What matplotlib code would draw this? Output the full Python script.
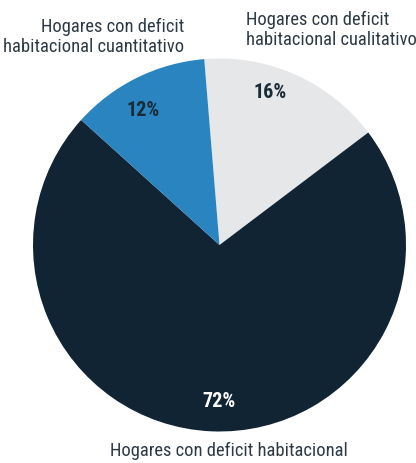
import matplotlib.pyplot as plt

categories = ["Hogares con deficit\nhabitacional cualitativo",
              "Hogares con deficit habitacional",
              "Hogares con deficit\nhabitacional cuantitativo"]
values = [16, 72, 12]
colors = ["#e6e7e9", "#102433", "#2a84c0"]
pct_colors = ["#1a2b38", "#ffffff", "#1a2b38"]

plt.rcParams['font.family'] = ["Roboto Condensed", "DejaVu Sans"]

fig = plt.figure(figsize=(4.16, 4.64), dpi=100)
ax = fig.add_axes([0, 0, 1, 1])

ax.pie(values, colors=colors, startangle=94.7, counterclock=False,
       center=(219.5, 218), radius=186.5, frame=True)
ax.set_xlim(0, 416)
ax.set_ylim(0, 464)
ax.set_aspect("equal")
ax.axis("off")

# percent labels
pct_pos = [(270, 371), (219, 62), (143, 354)]
for (x, y), v, c in zip(pct_pos, values, pct_colors):
    ax.text(x, y, f"{v}%", ha="center", va="center", fontsize=14.5,
            fontweight="bold", color=c)

# category labels
lab_color = "#2d3a45"
ax.text(246, 434, categories[0], ha="left", va="center", fontsize=13.3,
        color=lab_color, linespacing=1.2)
ax.text(228.5, 13, categories[1], ha="center", va="center", fontsize=13.3,
        color=lab_color)
ax.text(184, 427, categories[2], ha="right", va="center", fontsize=13.3,
        color=lab_color, linespacing=1.2)

fig.savefig("out.png", dpi=100)
